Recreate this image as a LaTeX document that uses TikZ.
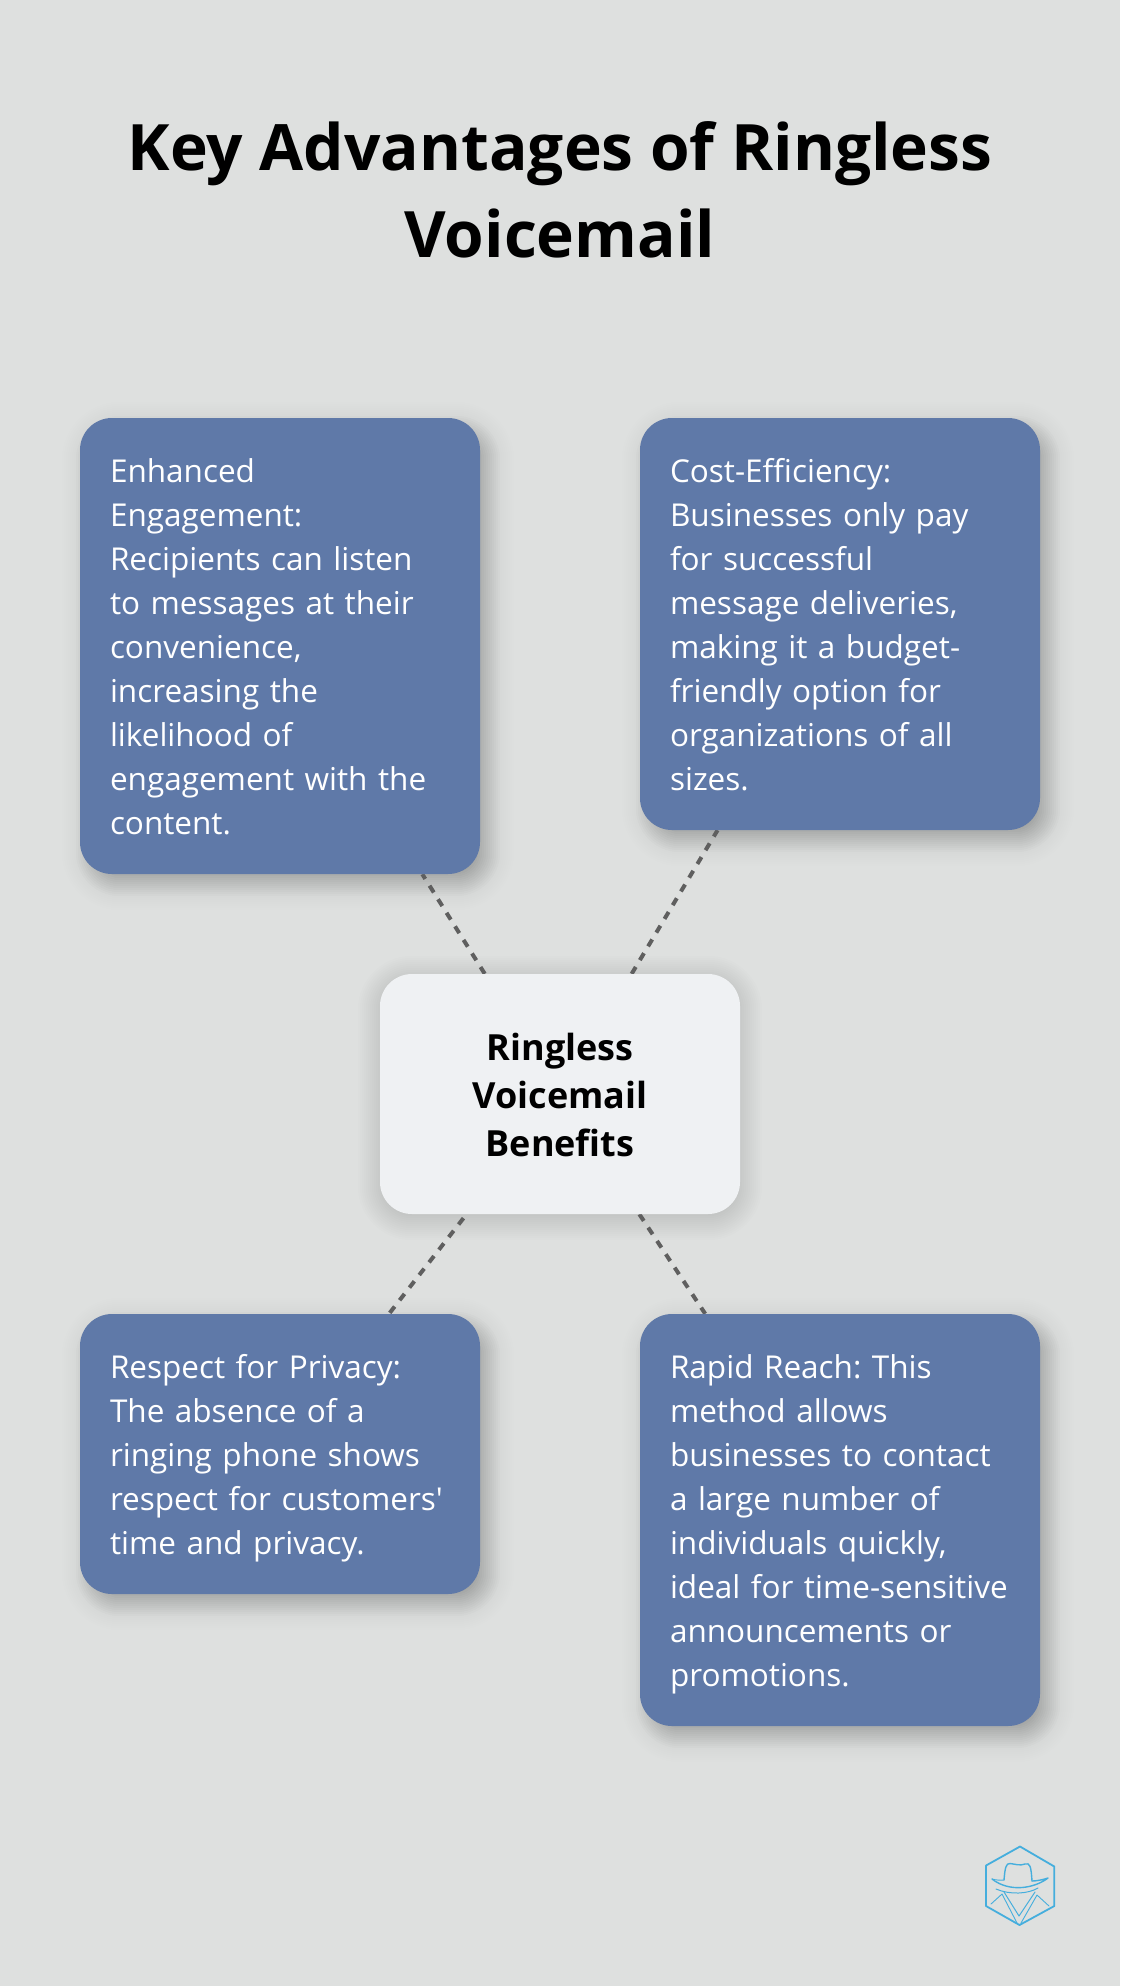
\documentclass[tikz,border=0pt]{standalone}
\usepackage{fontspec}
\setmainfont{Open Sans}[Ligatures=TeXOff]
\usetikzlibrary{calc,backgrounds}
\definecolor{bgc}{HTML}{DEE0DF}
\definecolor{bluebox}{HTML}{5F79A8}
\definecolor{centerbox}{HTML}{EFF1F3}
\definecolor{dashc}{HTML}{5F5F5F}
\definecolor{logoc}{HTML}{45AEDD}
\newcommand{\bl}{\rule[-9.5pt]{0pt}{44pt}}
\newcommand{\cl}{\rule[-10pt]{0pt}{48pt}}
\newcommand{\softshadow}[5]{% node, dx, dy, strength, spread
  \foreach \i in {-#5,-\numexpr#5-2\relax,...,#5}{
    \pgfmathsetmacro{\rr}{max(32+\i,6)}
    \fill[black,opacity=#4,rounded corners=\rr pt]
      ($(#1.south west)+(#2-\i,#3+\i)$) rectangle ($(#1.north east)+(#2+\i,#3-\i)$);
  }}
\newcommand{\cardshadow}[1]{\softshadow{#1}{8}{10}{0.013}{12}\softshadow{#1}{8}{10}{0.005}{26}}
\tikzset{
  x=1pt,y=-1pt,
  benefit/.style={fill=bluebox,text=white,rounded corners=32pt,inner xsep=30pt,inner ysep=30pt,
    text width=340pt,align=left,font=\frenchspacing\fontsize{31.5}{44}\selectfont},
  hub/.style={fill=centerbox,text=black,rounded corners=32pt,inner ysep=48pt,
    minimum width=360pt,align=center,font=\frenchspacing\fontsize{36}{48}\selectfont\bfseries},
  link/.style={draw=dashc,line width=4pt,dash pattern=on 8pt off 8pt},
  titletext/.style={align=center,text=black,font=\fontsize{64}{87}\selectfont\bfseries,inner sep=0pt},
  logoline/.style={draw=logoc,line width=1.4pt,line join=round,line cap=round},
}
\begin{document}
\begin{tikzpicture}
\useasboundingbox (0,0) rectangle (1120,1986);
\node[titletext] (title) at (560,189.5) {Key Advantages of Ringless\\Voicemail};
\node[benefit] (engage) at (280,646) {\bl Enhanced\\\bl Engagement:\\\bl Recipients can listen\\\bl to messages at their\\\bl convenience,\\\bl increasing the\\\bl likelihood of\\\bl engagement with the\\\bl content.};
\node[benefit] (cost) at (840,624) {\bl Cost-Efficiency:\\\bl Businesses only pay\\\bl for successful\\\bl message deliveries,\\\bl making it a budget-\\\bl friendly option for\\\bl organizations of all\\\bl sizes.};
\node[hub] (hub) at (560,1094) {\cl Ringless\\\cl Voicemail\\\cl Benefits};
\node[benefit] (privacy) at (280,1454) {\bl Respect for Privacy:\\\bl The absence of a\\\bl ringing phone shows\\\bl respect for customers'\\\bl time and privacy.};
\node[benefit] (reach) at (840,1520) {\bl Rapid Reach: This\\\bl method allows\\\bl businesses to contact\\\bl a large number of\\\bl individuals quickly,\\\bl ideal for time-sensitive\\\bl announcements or\\\bl promotions.};
\begin{pgfonlayer}{background}
  \fill[bgc] (0,0) rectangle (1120,1986);
  \cardshadow{engage}
  \cardshadow{cost}
  \cardshadow{privacy}
  \cardshadow{reach}
  \softshadow{hub}{0}{4}{0.006}{22}
  \draw[link] (hub) -- (engage);
  \draw[link] (hub) -- (cost);
  \draw[link,dash phase=11pt] (hub) -- (privacy);
  \draw[link] (hub) -- (reach);
\end{pgfonlayer}
% logo
\draw[logoline,line width=1.8pt] (1020,1846.5) -- (1054.3,1866.5) -- (1054.3,1906) -- (1019.5,1925) -- (986,1906) -- (986,1865.5) -- cycle;
\draw[logoline] (1004,1880) .. controls (1005,1868) and (1006,1863) .. (1010,1863.5) .. controls (1015,1864) and (1020,1866) .. (1025,1864) .. controls (1030,1862.5) and (1031,1866) .. (1032,1881);
\draw[logoline] (992,1879) .. controls (1010,1893) and (1035,1888) .. (1048,1878) .. controls (1042,1880) and (1036,1881) .. (1032,1881);
\draw[logoline,line width=.9pt] (992,1879) .. controls (996,1880) and (1000,1880.5) .. (1004,1880);
\draw[logoline,line width=1pt] (996,1889) .. controls (1010,1895) and (1028,1894) .. (1038,1888);
\draw[logoline,line width=1pt] (1004,1892) -- (1019,1916) -- (1035,1892);
\draw[logoline,line width=.9pt] (991,1904) -- (1002,1894) -- (1017,1923) (1021,1923) -- (1037,1895) -- (1049,1906);
\end{tikzpicture}
\end{document}
